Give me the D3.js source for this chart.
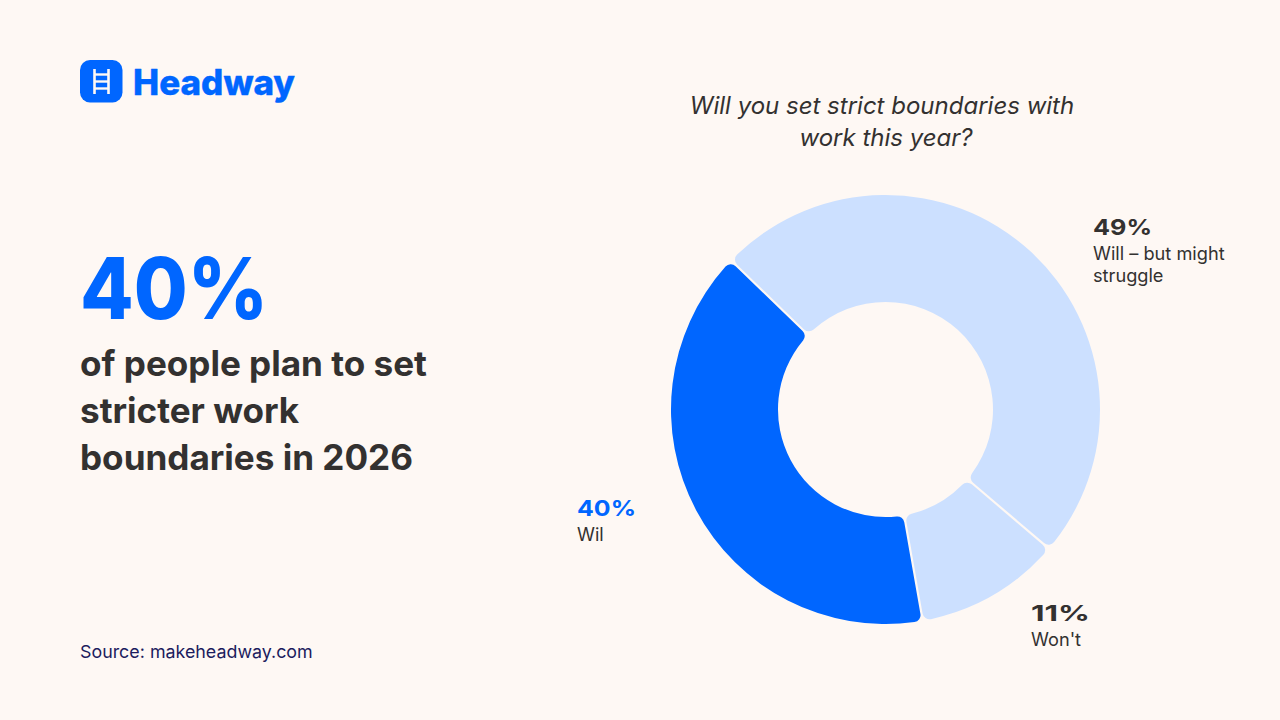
<!DOCTYPE html>
<html>
<head>
<meta charset="utf-8">
<script src="https://cdn.jsdelivr.net/npm/d3@7"></script>
<style>
  html, body { margin: 0; padding: 0; background: #fef8f4; }
  svg { display: block; font-family: Inter, sans-serif; }
</style>
</head>
<body>
<div class="chart"></div>
<script>
var categories = ["Will – but might struggle", "Won't", "Wil"];
var values = [49, 11, 40];
var colors = ["#cce0ff", "#cce0ff", "#0066ff"];
var headlineLines = ["of people plan to set", "stricter work", "boundaries in 2026"];
var questionLines = ["Will you set strict boundaries with", "work this year?"];

var width = 1280;
var height = 720;
var cx = 885.5;
var cy = 409.5;
var outerR = 214.5;
var innerR = 107.5;
var startDeg = -46;
var inkColor = "#333130";

var svg = d3.select(".chart")
  .append("svg")
  .attr("width", width)
  .attr("height", height);

svg.append("rect")
  .attr("width", width)
  .attr("height", height)
  .attr("fill", "#fef8f4");

// logo
var logo = svg.append("g");
logo.append("rect")
  .attr("x", 80)
  .attr("y", 60)
  .attr("width", 42.5)
  .attr("height", 42.5)
  .attr("rx", 10)
  .attr("fill", "#0066ff");
var rails = [94.5, 108.5];
logo.selectAll("line.rail")
  .data(rails)
  .enter()
  .append("line")
  .attr("class", "rail")
  .attr("x1", (d) => d)
  .attr("x2", (d) => d)
  .attr("y1", 69)
  .attr("y2", 94)
  .attr("stroke", "#fef8f4")
  .attr("stroke-width", 2.6);
var rungs = [74.5, 81.5, 88.5];
logo.selectAll("line.rung")
  .data(rungs)
  .enter()
  .append("line")
  .attr("class", "rung")
  .attr("x1", 94.5)
  .attr("x2", 108.5)
  .attr("y1", (d) => d)
  .attr("y2", (d) => d)
  .attr("stroke", "#fef8f4")
  .attr("stroke-width", 2.4);
logo.append("text")
  .text("Headway")
  .attr("x", 133)
  .attr("y", 95)
  .attr("font-size", "35px")
  .attr("font-weight", 800)
  .attr("textLength", 162)
  .attr("lengthAdjust", "spacingAndGlyphs")
  .attr("fill", "#0066ff")
  .attr("stroke", "#0066ff")
  .attr("stroke-width", 0.4)
  .attr("stroke-linejoin", "round");

// left block
svg.append("text")
  .text("40%")
  .attr("x", 80)
  .attr("y", 319)
  .attr("font-size", "85px")
  .attr("font-weight", 800)
  .attr("textLength", 188)
  .attr("lengthAdjust", "spacingAndGlyphs")
  .attr("fill", "#0066ff");

svg.selectAll("text.headline")
  .data(headlineLines)
  .enter()
  .append("text")
  .attr("class", "headline")
  .text((d) => d)
  .attr("x", 80)
  .attr("y", (d, i) => 376 + i * 47)
  .attr("font-size", "35.1px")
  .attr("font-weight", 700)
  .attr("fill", inkColor);

svg.append("text")
  .text("Source: makeheadway.com")
  .attr("x", 80)
  .attr("y", 658)
  .attr("font-size", "17.85px")
  .attr("fill", "#1c1c5e");

// question
svg.selectAll("text.question")
  .data(questionLines)
  .enter()
  .append("text")
  .attr("class", "question")
  .text((d) => d)
  .attr("x", (d, i) => 882 + i * 4)
  .attr("y", (d, i) => 114 + i * 32)
  .attr("text-anchor", "middle")
  .attr("font-size", "24px")
  .attr("font-style", "italic")
  .attr("fill", inkColor);

// donut
var pie = d3.pie()
  .sort(null)
  .startAngle(startDeg * Math.PI / 180)
  .endAngle((startDeg + 360) * Math.PI / 180);

var arc = d3.arc()
  .innerRadius(innerR)
  .outerRadius(outerR)
  .cornerRadius(7)
  .padAngle(0.012)
  .padRadius(180);

svg.append("g")
  .attr("transform", `translate(${cx},${cy})`)
  .selectAll("path")
  .data(pie(values))
  .enter()
  .append("path")
  .attr("d", arc)
  .attr("fill", (d, i) => colors[i]);

// labels
var labelRows = [
  { x: 1093, y: 235, value: values[0], lines: ["Will – but might", "struggle"], color: inkColor },
  { x: 1031, y: 621, value: values[1], lines: [categories[1]], color: inkColor },
  { x: 577, y: 516, value: values[2], lines: [categories[2]], color: "#0066ff" }
];

labelRows.forEach(function (row) {
  svg.append("text")
    .text(row.value + "%")
    .attr("x", row.x)
    .attr("y", row.y)
    .attr("font-size", "22px")
    .attr("font-weight", 700)
    .attr("textLength", 59)
    .attr("lengthAdjust", "spacingAndGlyphs")
    .attr("fill", row.color);
  row.lines.forEach(function (line, i) {
    svg.append("text")
      .text(line)
      .attr("x", row.x)
      .attr("y", row.y + 25 + i * 22)
      .attr("font-size", "18.2px")
      .attr("fill", inkColor);
  });
});
</script>
</body>
</html>
